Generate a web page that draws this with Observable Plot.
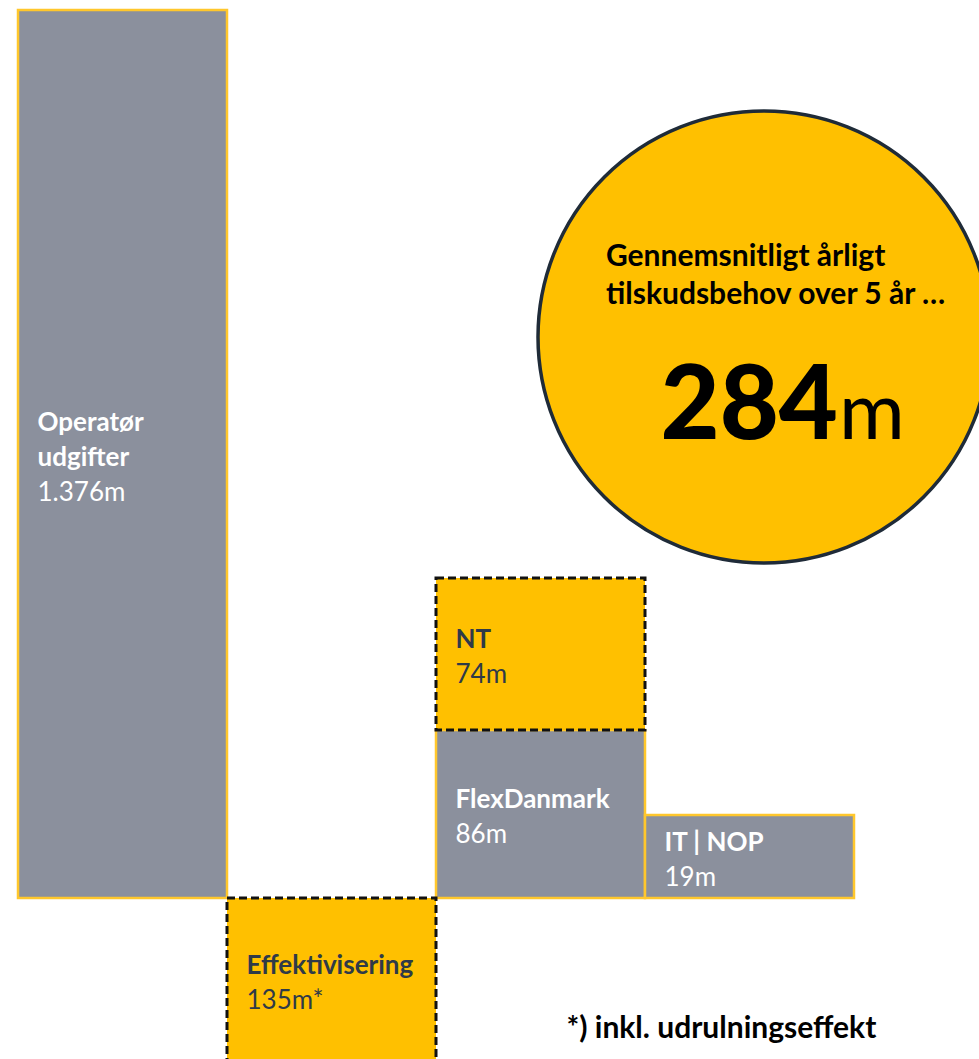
<!DOCTYPE html>
<html>
<head>
<meta charset="utf-8">
<script src="https://cdn.jsdelivr.net/npm/d3@7"></script>
<script src="https://cdn.jsdelivr.net/npm/@observablehq/plot@0.6"></script>
<style>
  html, body { margin: 0; padding: 0; background: #fff; overflow: hidden; }
  #chart svg { display: block; }
</style>
</head>
<body>
<div id="chart"></div>
<script>
// ---- data (m DKK) ----
const categories  = ["Operatør\nudgifter", "Effektivisering", "FlexDanmark", "NT", "IT | NOP"];
const valueLabels = ["1.376m", "135m*", "86m", "74m", "19m"];
const values      = [1376, -135, 86, 74, 19];
const kinds       = ["base", "saving", "base", "added", "base"];
const columns     = [0, 1, 2, 2, 3];
// stylised heights as drawn in the reference (the original is not to scale)
const drawnLow    = [0, -163, 0, 168, 0];
const drawnHigh   = [888, 0, 168, 320, 83];

const averageLabel = "Gennemsnitligt årligt\ntilskudsbehov over 5 år …";
const averageValue = 284;
const averageUnit  = "m";
const footnote     = "*) inkl. udrulningseffekt";

// ---- styling ----
const GRAY = "#8b909d", YELLOW = "#FFC000", GOLD = "#ffc72c", DARK = "#2f3a48";
const LINE = 35;      // px between label lines
const LABEL_FS = 26;

const bars = categories.map((name, i) => {
  const nNames = name.split("\n").length;
  const yellow = kinds[i] !== "base";
  return {
    name, value: values[i], kind: kinds[i],
    x1: columns[i], x2: columns[i] + 1,
    y1: drawnLow[i], y2: drawnHigh[i],
    mid: (drawnLow[i] + drawnHigh[i]) / 2,
    nameText: name + "\n",
    valueText: "\n".repeat(nNames) + valueLabels[i],
    fill: yellow ? YELLOW : GRAY,
    textFill: yellow ? DARK : "#ffffff"
  };
});

const cx = 3.567, cy = 561.5; // centre of the summary circle (column units, drawn units)

const chart = Plot.plot({
  width: 979,
  height: 1059,
  margin: 0,
  x: { domain: [-18 / 209, 961 / 209], axis: null },
  y: { domain: [-161, 898], axis: null },
  color: { type: "identity" },
  style: { fontFamily: "Lato, 'Open Sans', sans-serif", background: "#fff", overflow: "hidden" },
  marks: [
    Plot.rect(bars.filter(d => d.kind === "base"), {
      x1: "x1", x2: "x2", y1: "y1", y2: "y2",
      fill: "fill", stroke: GOLD, strokeWidth: 2.5
    }),
    Plot.rect(bars.filter(d => d.kind !== "base"), {
      x1: "x1", x2: "x2", y1: "y1", y2: "y2",
      fill: "fill", stroke: "#111", strokeWidth: 3, strokeDasharray: "8,4"
    }),
    Plot.text(bars, {
      x: "x1", y: "mid", text: "nameText", dx: 19,
      textAnchor: "start", lineAnchor: "middle",
      fontSize: LABEL_FS, fontWeight: 700, lineHeight: LINE / LABEL_FS,
      fill: "textFill"
    }),
    Plot.text(bars, {
      x: "x1", y: "mid", text: "valueText", dx: 19,
      textAnchor: "start", lineAnchor: "middle",
      fontSize: LABEL_FS, fontWeight: 400, lineHeight: LINE / LABEL_FS,
      fill: "textFill"
    }),
    Plot.dot([0], {
      x: () => cx, y: () => cy, r: 226,
      fill: YELLOW, stroke: "#1f2b38", strokeWidth: 3.5
    }),
    Plot.text([averageLabel], {
      x: () => cx, y: () => cy, text: d => d,
      dx: -158, dy: -33.5, textAnchor: "start", lineAnchor: "bottom",
      fontSize: 30, fontWeight: 700, lineHeight: 38 / 30, fill: "#000"
    }),
    Plot.text([averageValue], {
      x: () => cx, y: () => cy, text: d => String(d),
      dx: 74, dy: 101.5, textAnchor: "end", lineAnchor: "bottom",
      fontSize: 102, fontWeight: 900, fill: "#000"
    }),
    Plot.text([averageUnit], {
      x: () => cx, y: () => cy, text: d => d,
      dx: 75, dy: 101.5, textAnchor: "start", lineAnchor: "bottom",
      fontSize: 80, fontWeight: 400, fill: "#000"
    }),
    Plot.text([footnote], {
      frameAnchor: "bottom-left", text: d => d,
      dx: 566, dy: -22, textAnchor: "start", lineAnchor: "bottom",
      fontSize: 30, fontWeight: 700, fill: "#000"
    })
  ]
});
document.getElementById("chart").appendChild(chart);
</script>
</body>
</html>
